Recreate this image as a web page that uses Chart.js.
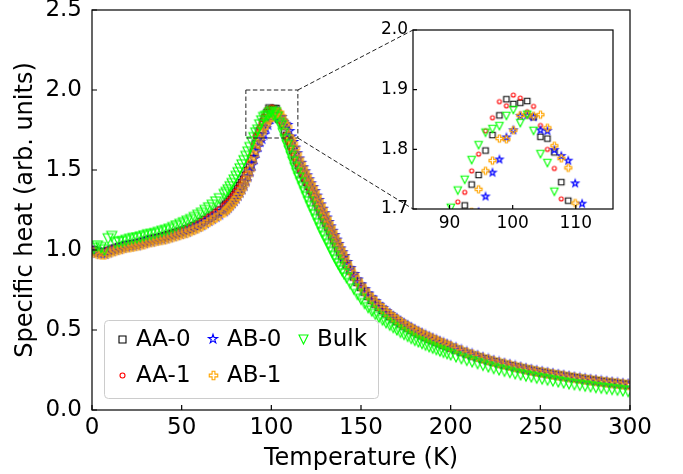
<!DOCTYPE html>
<html>
<head>
<meta charset="utf-8">
<script src="https://cdn.jsdelivr.net/npm/chart.js@4.4.0/dist/chart.umd.min.js"></script>
<style>
  body { margin: 0; background: #fff; }
  #wrap { position: relative; width: 683px; height: 474px; }
  #mainChart { position: absolute; left: 0; top: 0; }
  #insetChart { position: absolute; left: 360px; top: 15px; }
</style>
</head>
<body>
<div id="wrap">
  <canvas id="mainChart" width="683" height="474"></canvas>
  <canvas id="insetChart" width="265" height="225"></canvas>
</div>
<script>
'use strict';
// ********************** DATA *********************

const temperature = [
  1, 3, 5, 7, 9, 11, 13, 15, 17, 19, 21, 23, 25, 27, 29, 31, 33, 35, 37, 39, 41, 43, 45, 47, 49, 51, 53, 55, 57, 59, 61, 63, 65, 67, 69, 71,
  73.7, 74.8, 75.9, 77.0, 78.1, 79.2, 80.3, 81.4, 82.5, 83.6, 84.7, 85.8, 86.9,
  88.0, 89.1, 90.2, 91.3, 92.4, 93.5, 94.6, 95.7, 96.8, 97.9, 99.0, 100.1, 101.2, 102.3, 103.3,
  104.4, 105.5, 106.6, 107.7, 108.8, 109.9, 111.0, 112.0, 113.1, 114.2,
  115.3, 116.4, 117.5, 118.6, 119.7, 120.8, 121.9, 123.0, 124.1, 125.2, 126.3, 127.4,
  128.5, 129.6, 130.7, 131.8, 132.9, 134.0, 135.1, 136.2, 137.3, 138.4, 139.5, 140.6,
  142, 144, 146, 148, 150, 152, 154, 156, 158, 160, 162, 164, 166, 168, 170,
  172, 174, 176, 178, 180, 182, 184, 186, 188, 190, 192, 194, 196, 198, 200,
  203, 206, 209, 212, 215, 218, 221, 224, 227, 230, 233, 236, 239, 242, 245, 248, 251,
  254, 257, 260, 263, 266, 269, 272, 275, 278, 281, 284, 287, 290, 293, 296, 299
];

const aa0 = [
  1.00, 0.99, 0.985, 0.985, 0.995, 1.003, 1.01, 1.017, 1.023, 1.03, 1.033, 1.037, 1.04, 1.047, 1.053, 1.06, 1.067, 1.072,
  1.075, 1.082, 1.088, 1.095, 1.102, 1.108, 1.115, 1.122, 1.13, 1.14, 1.15, 1.16, 1.175, 1.188, 1.202, 1.215, 1.232, 1.248,
  1.272, 1.284, 1.298, 1.312, 1.327, 1.343, 1.36, 1.38, 1.40, 1.418, 1.44, 1.465, 1.495,
  1.53, 1.57, 1.61, 1.66, 1.706, 1.741, 1.757, 1.798, 1.824, 1.857, 1.884, 1.876, 1.878, 1.881, 1.854,
  1.821, 1.818, 1.795, 1.745, 1.714, 1.685, 1.655, 1.625, 1.59, 1.56,
  1.53, 1.505, 1.478, 1.452, 1.427, 1.402, 1.377, 1.353, 1.328, 1.30, 1.273, 1.245,
  1.218, 1.194, 1.17, 1.145, 1.12, 1.09, 1.065, 1.04, 1.015, 0.99, 0.966, 0.943,
  0.91, 0.872, 0.835, 0.801, 0.77, 0.74, 0.713, 0.688, 0.665, 0.645, 0.625, 0.605, 0.588, 0.572, 0.557,
  0.542, 0.528, 0.515, 0.502, 0.49, 0.478, 0.467, 0.456, 0.446, 0.436, 0.427, 0.417, 0.408, 0.399, 0.39,
  0.377, 0.364, 0.352, 0.34, 0.329, 0.319, 0.309, 0.30, 0.291, 0.283, 0.275, 0.267, 0.26, 0.253, 0.246, 0.239, 0.233,
  0.227, 0.221, 0.216, 0.21, 0.205, 0.20, 0.195, 0.19, 0.185, 0.181, 0.176, 0.172, 0.168, 0.164, 0.16, 0.156
];

const aa1 = [
  1.005, 0.995, 0.99, 0.99, 1.0, 1.008, 1.015, 1.02, 1.025, 1.03, 1.037, 1.042, 1.045, 1.05, 1.055, 1.06, 1.068, 1.075,
  1.08, 1.086, 1.092, 1.10, 1.106, 1.113, 1.12, 1.127, 1.135, 1.145, 1.155, 1.167, 1.18, 1.193, 1.207, 1.22, 1.237, 1.253,
  1.277, 1.29, 1.303, 1.317, 1.332, 1.348, 1.366, 1.385, 1.405, 1.425, 1.447, 1.472, 1.50,
  1.545, 1.60, 1.655, 1.712, 1.728, 1.764, 1.792, 1.831, 1.853, 1.880, 1.873, 1.891, 1.886, 1.863, 1.872,
  1.84, 1.80, 1.768, 1.717, 1.69, 1.665, 1.635, 1.605, 1.575, 1.545,
  1.52, 1.493, 1.468, 1.442, 1.418, 1.393, 1.368, 1.343, 1.318, 1.29, 1.263, 1.237,
  1.21, 1.186, 1.16, 1.135, 1.11, 1.083, 1.058, 1.033, 1.008, 0.983, 0.96, 0.937,
  0.905, 0.867, 0.83, 0.796, 0.765, 0.735, 0.708, 0.683, 0.66, 0.64, 0.62, 0.60, 0.584, 0.568, 0.553,
  0.538, 0.524, 0.511, 0.499, 0.487, 0.475, 0.464, 0.453, 0.443, 0.433, 0.424, 0.414, 0.405, 0.396, 0.387,
  0.375, 0.362, 0.35, 0.338, 0.327, 0.317, 0.307, 0.298, 0.289, 0.281, 0.273, 0.266, 0.259, 0.252, 0.245, 0.238, 0.232,
  0.226, 0.22, 0.215, 0.209, 0.204, 0.199, 0.194, 0.189, 0.184, 0.18, 0.175, 0.171, 0.167, 0.163, 0.159, 0.155
];

const ab0 = [
  0.99, 0.982, 0.977, 0.975, 0.985, 0.993, 1.0, 1.007, 1.013, 1.02, 1.023, 1.027, 1.03, 1.037, 1.043, 1.05, 1.053, 1.06,
  1.065, 1.068, 1.073, 1.08, 1.087, 1.093, 1.10, 1.107, 1.115, 1.125, 1.135, 1.145, 1.155, 1.168, 1.182, 1.195, 1.208, 1.222,
  1.242, 1.253, 1.265, 1.279, 1.293, 1.307, 1.322, 1.34, 1.36, 1.38, 1.403, 1.43, 1.46,
  1.49, 1.53, 1.57, 1.61, 1.645, 1.675, 1.695, 1.721, 1.761, 1.783, 1.820, 1.832, 1.856, 1.857, 1.854,
  1.832, 1.831, 1.799, 1.789, 1.781, 1.743, 1.709, 1.675, 1.64, 1.605,
  1.572, 1.545, 1.517, 1.492, 1.467, 1.442, 1.417, 1.393, 1.368, 1.34, 1.313, 1.285,
  1.258, 1.23, 1.203, 1.175, 1.148, 1.12, 1.093, 1.065, 1.038, 1.01, 0.986, 0.962,
  0.925, 0.887, 0.85, 0.816, 0.785, 0.755, 0.728, 0.703, 0.68, 0.658, 0.638, 0.618, 0.60, 0.583, 0.568,
  0.553, 0.539, 0.526, 0.513, 0.50, 0.488, 0.477, 0.466, 0.456, 0.446, 0.436, 0.426, 0.417, 0.408, 0.399,
  0.386, 0.373, 0.36, 0.348, 0.337, 0.326, 0.316, 0.306, 0.297, 0.289, 0.281, 0.272, 0.265, 0.257, 0.25, 0.243, 0.237,
  0.231, 0.225, 0.219, 0.214, 0.208, 0.203, 0.198, 0.193, 0.188, 0.184, 0.179, 0.175, 0.171, 0.167, 0.163, 0.159
];

const ab1 = [
  0.985, 0.977, 0.973, 0.972, 0.98, 0.988, 0.995, 1.002, 1.008, 1.015, 1.018, 1.022, 1.027, 1.032, 1.037, 1.045, 1.05, 1.055,
  1.06, 1.064, 1.068, 1.075, 1.082, 1.088, 1.095, 1.102, 1.108, 1.118, 1.127, 1.137, 1.148, 1.16, 1.175, 1.188, 1.202, 1.215,
  1.237, 1.248, 1.26, 1.274, 1.289, 1.305, 1.322, 1.34, 1.36, 1.382, 1.407, 1.436, 1.468,
  1.50, 1.55, 1.59, 1.63, 1.665, 1.695, 1.733, 1.764, 1.781, 1.818, 1.817, 1.832, 1.857, 1.858, 1.856,
  1.858, 1.836, 1.806, 1.785, 1.769, 1.71, 1.69, 1.665, 1.635, 1.60,
  1.568, 1.54, 1.512, 1.487, 1.462, 1.437, 1.412, 1.388, 1.363, 1.335, 1.308, 1.28,
  1.253, 1.225, 1.198, 1.17, 1.143, 1.115, 1.088, 1.06, 1.033, 1.005, 0.981, 0.957,
  0.92, 0.882, 0.845, 0.811, 0.78, 0.75, 0.723, 0.698, 0.675, 0.654, 0.634, 0.614, 0.596, 0.58, 0.565,
  0.55, 0.536, 0.523, 0.51, 0.498, 0.486, 0.475, 0.464, 0.454, 0.444, 0.434, 0.424, 0.415, 0.406, 0.397,
  0.384, 0.371, 0.358, 0.346, 0.335, 0.324, 0.314, 0.304, 0.295, 0.287, 0.279, 0.27, 0.263, 0.255, 0.248, 0.241, 0.235,
  0.229, 0.223, 0.217, 0.212, 0.206, 0.201, 0.196, 0.191, 0.186, 0.182, 0.177, 0.173, 0.169, 0.165, 0.161, 0.157
];

const bulk = [
  1.01, 1.025, 1.015, 1.00, 1.07, 1.085, 1.045, 1.05, 1.053, 1.06, 1.067, 1.072, 1.075, 1.082, 1.088, 1.095, 1.098, 1.103,
  1.11, 1.117, 1.123, 1.13, 1.14, 1.15, 1.16, 1.17, 1.18, 1.19, 1.203, 1.217, 1.23, 1.247, 1.263, 1.28, 1.30, 1.32,
  1.347, 1.36, 1.376, 1.395, 1.415, 1.437, 1.46, 1.483, 1.507, 1.532, 1.558, 1.585, 1.612,
  1.64, 1.675, 1.702, 1.731, 1.749, 1.782, 1.807, 1.828, 1.834, 1.839, 1.856, 1.866, 1.844, 1.858, 1.831,
  1.792, 1.777, 1.729, 1.69, 1.655, 1.62, 1.585, 1.55, 1.515, 1.48,
  1.45, 1.42, 1.39, 1.36, 1.33, 1.30, 1.272, 1.245, 1.218, 1.19, 1.163, 1.135,
  1.108, 1.084, 1.06, 1.035, 1.01, 0.985, 0.96, 0.936, 0.913, 0.892, 0.87, 0.85,
  0.825, 0.79, 0.755, 0.722, 0.692, 0.665, 0.64, 0.618, 0.598, 0.58, 0.562, 0.545, 0.53, 0.515, 0.50,
  0.485, 0.472, 0.46, 0.447, 0.435, 0.425, 0.415, 0.405, 0.395, 0.386, 0.377, 0.368, 0.36, 0.352, 0.344,
  0.332, 0.321, 0.31, 0.30, 0.29, 0.279, 0.269, 0.259, 0.25, 0.242, 0.234, 0.226, 0.219, 0.212, 0.206, 0.199, 0.193,
  0.187, 0.181, 0.175, 0.169, 0.163, 0.158, 0.154, 0.149, 0.145, 0.14, 0.136, 0.132, 0.128, 0.124, 0.119, 0.115
];

const seriesNames = ['AA-0', 'AA-1', 'AB-0', 'AB-1', 'Bulk'];
const seriesValues = [aa0, aa1, ab0, ab1, bulk];
const seriesColors = ['#000000', '#ff0000', '#0000ff', '#ffa500', '#00ff00'];
const seriesShapes = ['square', 'circle', 'star', 'plus', 'triDown'];

const xTicks = [0, 50, 100, 150, 200, 250, 300];
const yTicks = [0.0, 0.5, 1.0, 1.5, 2.0, 2.5];
const insetXTicks = [90, 100, 110];
const insetYTicks = [1.7, 1.8, 1.9, 2.0];

const zoomX = [85.8, 114.8];
const zoomY = [1.7, 2.0];

// ********************* MARKERS ********************

const mainSizes = { square: 7.5, circle: 5, star: 10, plus: 9, triDown: 10 };
const insetSizes = { square: 5.5, circle: 4, star: 7.5, plus: 7, triDown: 7.5 };
const legendSizes = { square: 7, circle: 5, star: 9.5, plus: 8.5, triDown: 9 };

function makeMarker(shape, size, color) {
  const dim = Math.ceil(size) + 4;
  const c = document.createElement('canvas');
  c.width = dim;
  c.height = dim;
  const ctx = c.getContext('2d');
  const m = dim / 2;
  const r = size / 2;
  ctx.strokeStyle = color;
  ctx.lineWidth = 1.1;
  ctx.beginPath();
  if (shape === 'square') {
    ctx.rect(m - r, m - r, size, size);
  } else if (shape === 'circle') {
    ctx.arc(m, m, r, 0, Math.PI * 2);
  } else if (shape === 'triDown') {
    ctx.moveTo(m - r, m - r);
    ctx.lineTo(m + r, m - r);
    ctx.lineTo(m, m + r);
    ctx.closePath();
  } else if (shape === 'star') {
    for (let i = 0; i < 10; i++) {
      const a = -Math.PI / 2 + i * Math.PI / 5;
      const rr = i % 2 ? r * 0.382 : r;
      const px = m + Math.cos(a) * rr;
      const py = m + Math.sin(a) * rr;
      if (i === 0) ctx.moveTo(px, py); else ctx.lineTo(px, py);
    }
    ctx.closePath();
  } else if (shape === 'plus') {
    const u = size / 6;
    const pts = [[-1, -3], [1, -3], [1, -1], [3, -1], [3, 1], [1, 1], [1, 3], [-1, 3], [-1, 1], [-3, 1], [-3, -1], [-1, -1]];
    pts.forEach((p, i) => {
      const px = m + p[0] * u;
      const py = m + p[1] * u;
      if (i === 0) ctx.moveTo(px, py); else ctx.lineTo(px, py);
    });
    ctx.closePath();
  }
  ctx.stroke();
  return c;
}

const mainMarkers = seriesShapes.map((s, i) => makeMarker(s, mainSizes[s], seriesColors[i]));
const insetMarkers = seriesShapes.map((s, i) => makeMarker(s, insetSizes[s], seriesColors[i]));
const legendMarkers = seriesShapes.map((s, i) => makeMarker(s, legendSizes[s], seriesColors[i]));

function buildDatasets(markers) {
  return seriesNames.map((name, i) => ({
    label: name,
    data: temperature.map((t, k) => ({ x: t, y: seriesValues[i][k] })),
    pointStyle: markers[i],
    pointRadius: 4,
    showLine: false,
    clip: 0,
    order: seriesNames.length - i
  }));
}

// ********************* PLUGINS ********************

const frameTicks = {
  id: 'frameTicks',
  afterDatasetsDraw(chart, args, opts) {
    const { ctx, chartArea: a, scales: { x, y } } = chart;
    ctx.save();
    ctx.strokeStyle = '#000';
    ctx.lineWidth = 1.2;
    ctx.beginPath();
    x.ticks.forEach(t => {
      const px = x.getPixelForValue(t.value);
      ctx.moveTo(px, a.bottom);
      ctx.lineTo(px, a.bottom - opts.len);
    });
    y.ticks.forEach(t => {
      const py = y.getPixelForValue(t.value);
      ctx.moveTo(a.left, py);
      ctx.lineTo(a.left + opts.len, py);
    });
    ctx.stroke();
    ctx.strokeRect(a.left, a.top, a.right - a.left, a.bottom - a.top);
    ctx.restore();
  }
};

const whiteArea = {
  id: 'whiteArea',
  beforeDraw(chart) {
    const { ctx, chartArea: a } = chart;
    ctx.save();
    ctx.fillStyle = '#fff';
    ctx.fillRect(a.left, a.top, a.right - a.left, a.bottom - a.top);
    ctx.restore();
  }
};

let insetChart = null;
const insetCanvas = document.getElementById('insetChart');

const zoomBox = {
  id: 'zoomBox',
  afterDatasetsDraw(chart) {
    const { ctx, scales: { x, y } } = chart;
    const x0 = x.getPixelForValue(zoomX[0]);
    const x1 = x.getPixelForValue(zoomX[1]);
    const y0 = y.getPixelForValue(zoomY[1]);
    const y1 = y.getPixelForValue(zoomY[0]);
    const ia = insetChart.chartArea;
    const ix = insetCanvas.offsetLeft + ia.left;
    const iyTop = insetCanvas.offsetTop + ia.top;
    const iyBot = insetCanvas.offsetTop + ia.bottom;
    ctx.save();
    ctx.strokeStyle = '#222';
    ctx.lineWidth = 1;
    ctx.setLineDash([4.5, 2.5]);
    ctx.strokeRect(x0, y0, x1 - x0, y1 - y0);
    ctx.beginPath();
    ctx.moveTo(x1, y0);
    ctx.lineTo(ix, iyTop);
    ctx.moveTo(x1, y1);
    ctx.lineTo(ix, iyBot);
    ctx.stroke();
    ctx.restore();
  }
};

// legend in matplotlib order: filled column by column, 3 columns
const legendBox = {
  id: 'legendBox',
  afterDraw(chart) {
    const ctx = chart.ctx;
    const box = { left: 104, top: 320, width: 274, height: 78 };
    const colX = [122, 213, 303];
    const rowY = [339, 375];
    ctx.save();
    ctx.beginPath();
    ctx.roundRect(box.left + 0.5, box.top + 0.5, box.width, box.height, 4);
    ctx.fillStyle = 'rgba(255,255,255,0.8)';
    ctx.fill();
    ctx.strokeStyle = '#cccccc';
    ctx.lineWidth = 1;
    ctx.stroke();
    ctx.font = '23px "DejaVu Sans"';
    ctx.textBaseline = 'middle';
    ctx.fillStyle = '#000';
    seriesNames.forEach((name, i) => {
      const col = Math.floor(i / 2);
      const row = i % 2;
      const img = legendMarkers[i];
      ctx.drawImage(img, Math.round(colX[col] - img.width / 2), Math.round(rowY[row] - img.height / 2));
      ctx.fillText(name, colX[col] + 14, rowY[row] + 1);
    });
    ctx.restore();
  }
};

// ********************* CHARTS ********************

Chart.defaults.font.family = '"DejaVu Sans", sans-serif';
Chart.defaults.color = '#000';

function axis(min, max, ticks, opts) {
  return {
    type: 'linear',
    min: min,
    max: max,
    grid: { display: false, drawTicks: false },
    border: { display: false },
    ticks: {
      font: { size: opts.font },
      padding: opts.pad,
      autoSkip: false,
      maxRotation: 0,
      callback: opts.fmt
    },
    afterBuildTicks: s => { s.ticks = ticks.map(v => ({ value: v })); },
    afterFit: s => {
      if (s.isHorizontal()) { s.height = opts.size; s.paddingLeft = 0; s.paddingRight = 0; }
      else { s.width = opts.size; s.paddingTop = 0; s.paddingBottom = 0; }
    },
    title: opts.title ? {
      display: true,
      text: opts.title,
      font: { size: 24 },
      padding: opts.titlePad
    } : { display: false }
  };
}

insetChart = new Chart(insetCanvas, {
  type: 'scatter',
  data: { datasets: buildDatasets(insetMarkers) },
  options: {
    responsive: false,
    animation: false,
    devicePixelRatio: 1,
    events: [],
    layout: { padding: { top: 15, right: 12, left: 0, bottom: 0 } },
    plugins: { legend: { display: false }, tooltip: { enabled: false }, frameTicks: { len: 4 } },
    scales: {
      x: axis(84.2, 115.9, insetXTicks, { font: 17, pad: 4, size: 31, fmt: v => String(v) }),
      y: axis(1.7, 2.0, insetYTicks, { font: 17, pad: 5, size: 53, fmt: v => v.toFixed(1) })
    }
  },
  plugins: [whiteArea, frameTicks]
});

new Chart(document.getElementById('mainChart'), {
  type: 'scatter',
  data: { datasets: buildDatasets(mainMarkers) },
  options: {
    responsive: false,
    animation: false,
    devicePixelRatio: 1,
    events: [],
    layout: { padding: { top: 10, right: 53, left: 0, bottom: 0 } },
    plugins: { legend: { display: false }, tooltip: { enabled: false }, frameTicks: { len: 5 } },
    scales: {
      x: axis(0, 300, xTicks, { font: 23, pad: 4, size: 64, fmt: v => String(v),
        title: 'Temperature (K)', titlePad: { top: 0, bottom: 1 } }),
      y: axis(0, 2.5, yTicks, { font: 23, pad: 10, size: 92, fmt: v => v.toFixed(1),
        title: 'Specific heat (arb. units)', titlePad: { top: 11, bottom: 0 } })
    }
  },
  plugins: [zoomBox, frameTicks, legendBox]
});
</script>
</body>
</html>
